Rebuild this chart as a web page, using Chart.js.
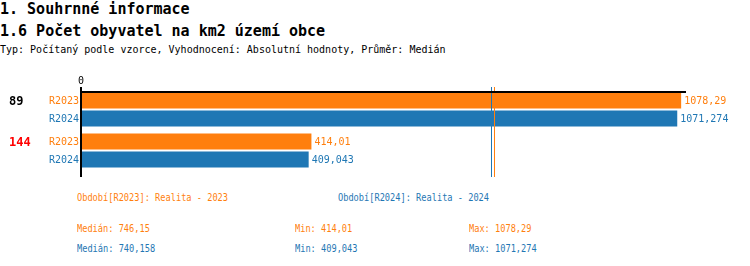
<!DOCTYPE html>
<html>
<head>
<meta charset="utf-8">
<script src="https://cdn.jsdelivr.net/npm/chart.js@4/dist/chart.umd.min.js"></script>
<style>
    body { margin: 0; width: 750px; height: 266px; background: #fff; position: relative; overflow: hidden; font-family: "DejaVu Sans Mono", monospace; }
    .t { position: absolute; white-space: pre; line-height: 1; }
    .h { font-size: 15px; font-weight: bold; left: 0; color: #000; }
    .s { font-size: 10px; left: 0; color: #000; }
    .st { font-size: 10px; transform: scaleX(0.865); transform-origin: left center; }
    .o { color: #ff7f0e; }
    .b { color: #1f77b4; }
    #wrap { position: absolute; left: 0; top: 70px; width: 750px; height: 110px; }
</style>
</head>
<body>
<div class="t h" style="top:2px">1. Souhrnné informace</div>
<div class="t h" style="top:24px">1.6 Počet obyvatel na km2 území obce</div>
<div class="t s" style="top:45px">Typ: Počítaný podle vzorce, Vyhodnocení: Absolutní hodnoty, Průměr: Medián</div>

<div id="wrap"><canvas id="chart"></canvas></div>

<div class="t st o" style="left:77px;top:193px">Období[R2023]: Realita - 2023</div>
<div class="t st b" style="left:338px;top:193px">Období[R2024]: Realita - 2024</div>
<div class="t st o" id="med1" style="left:77px;top:224px"></div>
<div class="t st o" id="min1" style="left:295px;top:224px"></div>
<div class="t st o" id="max1" style="left:469px;top:224px"></div>
<div class="t st b" id="med2" style="left:77px;top:244px"></div>
<div class="t st b" id="min2" style="left:295px;top:244px"></div>
<div class="t st b" id="max2" style="left:469px;top:244px"></div>

<script>
const groups = ['89', '144'];
const groupColors = ['#000000', '#ff0000'];
const periods = ['R2023', 'R2024'];
const values2023 = [1078.29, 414.01];
const values2024 = [1071.274, 409.043];
const medians = [746.15, 740.158];
const periodColors = ['#ff7f0e', '#1f77b4'];
const xMax = 1087;

const fmt = v => String(v).replace('.', ',');

// stats under the chart
[values2023, values2024].forEach((vals, i) => {
    document.getElementById('med' + (i + 1)).textContent = 'Medián: ' + fmt(medians[i]);
    document.getElementById('min' + (i + 1)).textContent = 'Min: ' + fmt(Math.min(...vals));
    document.getElementById('max' + (i + 1)).textContent = 'Max: ' + fmt(Math.max(...vals));
});

const FONT = '"DejaVu Sans Mono", monospace';

const decorPlugin = {
    id: 'decor',
    afterDatasetsDraw(chart) {
        const ctx = chart.ctx;
        const x = chart.scales.x;
        const x0 = x.getPixelForValue(0);
        ctx.save();

        // median lines
        medians.forEach((m, i) => {
            const px = Math.round(x.getPixelForValue(m)) - 1.5;
            ctx.strokeStyle = periodColors[i];
            ctx.lineWidth = 1;
            ctx.beginPath();
            ctx.moveTo(px, 17);
            ctx.lineTo(px, 107);
            ctx.stroke();
        });

        // axis lines
        ctx.strokeStyle = '#000';
        ctx.lineWidth = 2;
        ctx.beginPath();
        ctx.moveTo(x0, 17);
        ctx.lineTo(x0, 107);
        ctx.stroke();
        ctx.beginPath();
        ctx.moveTo(x0, 22);
        ctx.lineTo(x.getPixelForValue(xMax), 22);
        ctx.stroke();

        ctx.fillStyle = '#000';
        ctx.font = '10px ' + FONT;
        ctx.textAlign = 'center';
        ctx.textBaseline = 'middle';
        ctx.fillText('0', x0, 11);

        // bar labels
        ctx.font = '10px ' + FONT;
        chart.data.datasets.forEach((ds, di) => {
            const meta = chart.getDatasetMeta(di);
            meta.data.forEach((bar, i) => {
                ctx.fillStyle = periodColors[di];
                ctx.textAlign = 'right';
                ctx.fillText(periods[di], x0 - 2, bar.y + 1);
                ctx.textAlign = 'left';
                ctx.fillText(fmt(ds.data[i]), bar.x + 3, bar.y + 1);
            });
        });

        // group labels
        ctx.font = 'bold 12px ' + FONT;
        ctx.textAlign = 'left';
        groups.forEach((g, i) => {
            const m0 = chart.getDatasetMeta(0).data[i];
            ctx.fillStyle = groupColors[i];
            ctx.fillText(g, 9, m0.y + 1);
        });
        ctx.restore();
    }
};

new Chart(document.getElementById('chart'), {
    type: 'bar',
    data: {
        labels: groups,
        datasets: [
            { label: periods[0], data: values2023, backgroundColor: periodColors[0] },
            { label: periods[1], data: values2024, backgroundColor: periodColors[1] }
        ]
    },
    options: {
        indexAxis: 'y',
        responsive: true,
        maintainAspectRatio: false,
        animation: false,
        categoryPercentage: 0.878,
        barPercentage: 0.889,
        layout: { padding: { left: 81, right: 64, top: 19, bottom: 9 } },
        scales: {
            x: { display: false, min: 0, max: xMax },
            y: { display: false }
        },
        plugins: {
            legend: { display: false },
            tooltip: { enabled: false }
        }
    },
    plugins: [decorPlugin]
});
</script>
</body>
</html>
